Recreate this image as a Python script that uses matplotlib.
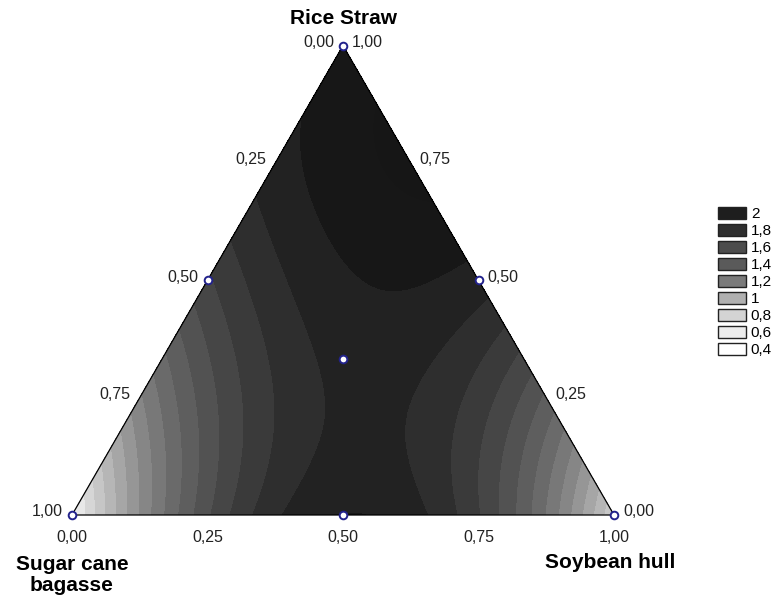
import numpy as np
import matplotlib
matplotlib.use("Agg")
from matplotlib import pyplot as plt
import matplotlib.tri as mtri
from matplotlib.patches import Patch

plt.rcParams['font.family'] = ['Liberation Sans', 'DejaVu Sans']

# mixture design (simplex centroid): fractions of each component
rice_straw = [1.0, 0.0, 0.0, 0.5, 0.5, 0.0, 1/3]
bagasse    = [0.0, 1.0, 0.0, 0.5, 0.0, 0.5, 1/3]
soybean    = [0.0, 0.0, 1.0, 0.0, 0.5, 0.5, 1/3]
response   = [2.00, 0.45, 0.70, 1.68, 1.95, 2.00, 1.93]

levels = np.round(np.arange(0.4, 2.25, 0.1), 2)
band_grays = [250, 232, 214, 198, 182, 166, 150, 134, 120, 106, 94, 82, 70, 58, 46, 34, 23, 22]

legend_values = ["2", "1,8", "1,6", "1,4", "1,2", "1", "0,8", "0,6", "0,4"]
legend_grays  = [30, 46, 76, 90, 122, 176, 212, 236, 255]

tick_labels = ["0,00", "0,25", "0,50", "0,75", "1,00"]
tick_values = [0.0, 0.25, 0.5, 0.75, 1.0]

H = np.sqrt(3) / 2


def to_xy(r, b, s):
    r, b, s = np.asarray(r), np.asarray(b), np.asarray(s)
    return s + r / 2, r * H


def terms(r, b, s):
    # Scheffe special cubic model
    return np.column_stack([r, b, s, r*b, r*s, b*s, r*b*s])


coef = np.linalg.lstsq(terms(np.array(rice_straw), np.array(bagasse), np.array(soybean)),
                       np.array(response), rcond=None)[0]

base = mtri.Triangulation([0, 1, 0.5], [0, 0, H])
fine = mtri.UniformTriRefiner(base).refine_triangulation(subdiv=6)
gr = fine.y / H
gs = np.clip(fine.x - gr / 2, 0, 1)
gb = np.clip(1 - gr - gs, 0, 1)
z = terms(gr, gb, gs) @ coef

W, Hpx = 777, 599
scale = 542.0
ox, oy = 72, 599 - 515
fig = plt.figure(figsize=(W / 100, Hpx / 100), dpi=100)
ax = fig.add_axes([0, 0, 1, 1])
ax.set_xlim(-ox / scale, (W - ox) / scale)
ax.set_ylim(-oy / scale, (Hpx - oy) / scale)
ax.axis('off')

band_colors = [(g / 255,) * 3 for g in band_grays]
ax.tricontourf(fine, np.clip(z, 0.41, 2.19), levels=levels, colors=band_colors)

# triangle outline
ax.plot([0, 1, 0.5, 0], [0, 0, H, 0], color='black', lw=0.9)

# design points
px, py = to_xy(rice_straw, bagasse, soybean)
ax.plot(px, py, 'o', ms=5.5, mfc='white', mec='#22228c', mew=1.4, zorder=5)

tick_kw = dict(textcoords='offset pixels', fontsize=11.5, color='#222222', va='center')
for v, lab in zip(tick_values, tick_labels):
    # bottom axis: soybean hull fraction
    x, y = to_xy(0, 1 - v, v)
    ax.annotate(lab, (x, y), xytext=(0, -22), ha='center', **tick_kw)
    # left axis: bagasse fraction
    x, y = to_xy(1 - v, v, 0)
    ax.annotate(lab, (x, y), xytext=(-9, 3), ha='right', **tick_kw)
    # right axis: rice straw fraction
    x, y = to_xy(v, 0, 1 - v)
    ax.annotate(lab, (x, y), xytext=(9, 3), ha='left', **tick_kw)

title_kw = dict(textcoords='offset pixels', fontsize=15, fontweight='bold', color='black',
                ha='center', va='center', linespacing=1.15)
ax.annotate("Rice Straw", to_xy(1, 0, 0), xytext=(0, 27), **title_kw)
ax.annotate("Sugar cane\nbagasse", to_xy(0, 1, 0), xytext=(0, -60), **title_kw)
ax.annotate("Soybean hull", to_xy(0, 0, 1), xytext=(-4, -47), **title_kw)

handles = [Patch(facecolor=(g / 255,) * 3, edgecolor='#222222', lw=1.0) for g in legend_grays]
ax.legend(handles, legend_values, loc='upper left', bbox_to_anchor=(718 / W, 1 - 207 / Hpx),
          bbox_transform=fig.transFigure, frameon=False, fontsize=11,
          handlelength=1.8, handleheight=0.85, labelspacing=0.17, handletextpad=0.35,
          borderpad=0, borderaxespad=0)

fig.savefig("out.png", dpi=100)
